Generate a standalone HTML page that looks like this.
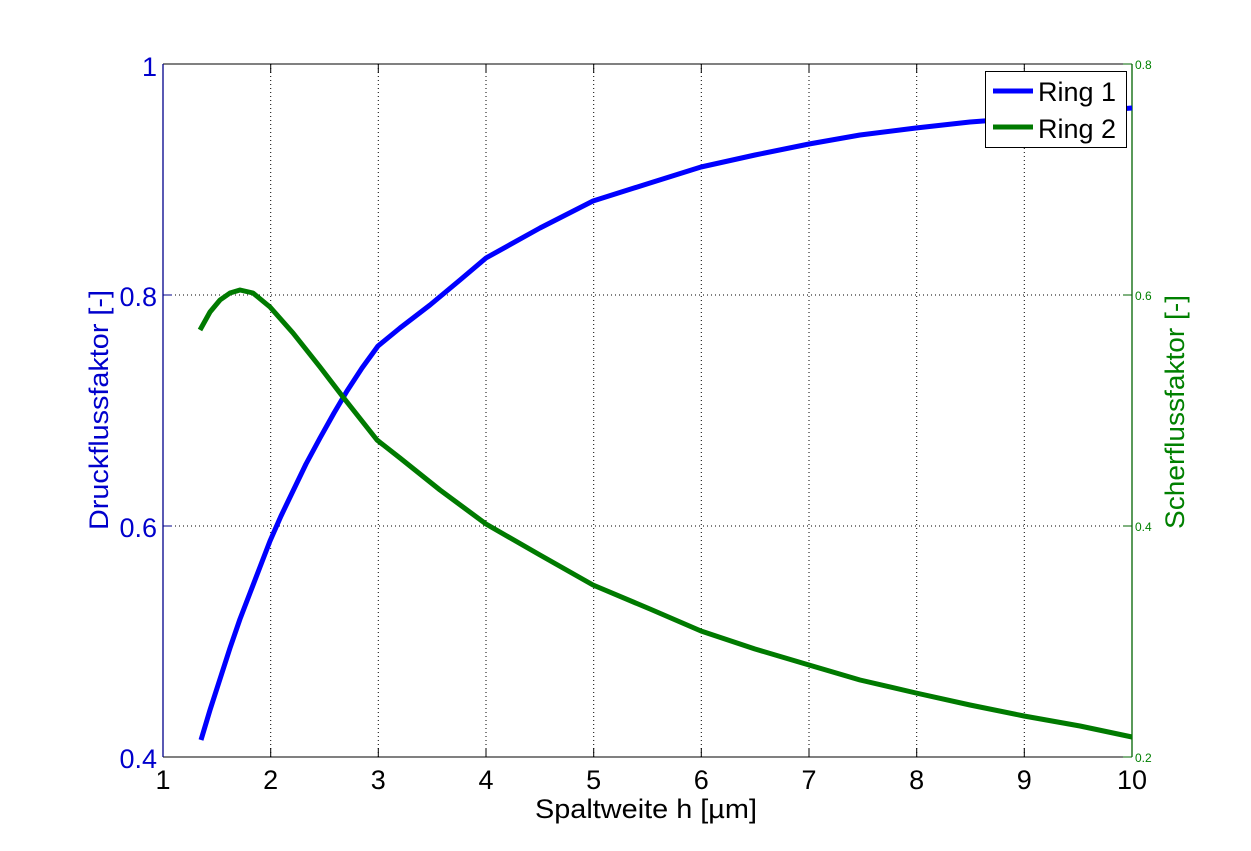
<!DOCTYPE html>
<html><head><meta charset="utf-8"><style>
html,body{margin:0;padding:0;background:#fff;}
svg{display:block;font-family:"Liberation Sans",Arial,sans-serif;}
</style></head><body>
<svg width="1251" height="851" viewBox="0 0 1251 851" xmlns="http://www.w3.org/2000/svg">
<rect width="1251" height="851" fill="#fff"/>
<g stroke="#000" stroke-width="1" stroke-dasharray="1,3">
<line x1="270.7" y1="64" x2="270.7" y2="757"/>
<line x1="378.3" y1="64" x2="378.3" y2="757"/>
<line x1="486" y1="64" x2="486" y2="757"/>
<line x1="593.7" y1="64" x2="593.7" y2="757"/>
<line x1="701.3" y1="64" x2="701.3" y2="757"/>
<line x1="809" y1="64" x2="809" y2="757"/>
<line x1="916.7" y1="64" x2="916.7" y2="757"/>
<line x1="1024.3" y1="64" x2="1024.3" y2="757"/>
<line x1="163" y1="295" x2="1132" y2="295"/>
<line x1="163" y1="526" x2="1132" y2="526"/>
</g>
<line x1="163" y1="64" x2="1132" y2="64" stroke="#000"/>
<line x1="163" y1="757" x2="1132" y2="757" stroke="#000"/>
<line x1="163" y1="64" x2="163" y2="757" stroke="#00008b" stroke-width="1.3"/>
<line x1="1132" y1="64" x2="1132" y2="757" stroke="#006400" stroke-width="1.3"/>
<g stroke="#000">
<line x1="270.7" y1="757" x2="270.7" y2="748"/><line x1="378.3" y1="757" x2="378.3" y2="748"/><line x1="486" y1="757" x2="486" y2="748"/><line x1="593.7" y1="757" x2="593.7" y2="748"/><line x1="701.3" y1="757" x2="701.3" y2="748"/><line x1="809" y1="757" x2="809" y2="748"/><line x1="916.7" y1="757" x2="916.7" y2="748"/><line x1="1024.3" y1="757" x2="1024.3" y2="748"/>
<line x1="270.7" y1="64" x2="270.7" y2="73"/><line x1="378.3" y1="64" x2="378.3" y2="73"/><line x1="486" y1="64" x2="486" y2="73"/><line x1="593.7" y1="64" x2="593.7" y2="73"/><line x1="701.3" y1="64" x2="701.3" y2="73"/><line x1="809" y1="64" x2="809" y2="73"/><line x1="916.7" y1="64" x2="916.7" y2="73"/><line x1="1024.3" y1="64" x2="1024.3" y2="73"/>
</g>
<g stroke="#00008b"><line x1="163" y1="295" x2="172" y2="295"/><line x1="163" y1="526" x2="172" y2="526"/></g>
<g stroke="#006400"><line x1="1132" y1="64" x2="1123" y2="64"/><line x1="1132" y1="295" x2="1123" y2="295"/><line x1="1132" y1="526" x2="1123" y2="526"/><line x1="1132" y1="757" x2="1123" y2="757"/></g>
<g font-size="27" fill="#000" text-anchor="middle">
<text x="163" y="789">1</text><text x="270.7" y="789">2</text><text x="378.3" y="789">3</text><text x="486" y="789">4</text><text x="593.7" y="789">5</text><text x="701.3" y="789">6</text><text x="809" y="789">7</text><text x="916.7" y="789">8</text><text x="1024.3" y="789">9</text><text x="1132" y="789">10</text>
</g>
<text x="646" y="818" font-size="27" text-anchor="middle" fill="#000" textLength="222" lengthAdjust="spacingAndGlyphs">Spaltweite h [µm]</text>
<g font-size="27" fill="#0000cc" text-anchor="end">
<text x="157" y="76">1</text><text x="157" y="306">0.8</text><text x="157" y="537">0.6</text><text x="157" y="768">0.4</text>
</g>
<text transform="translate(108,410) rotate(-90)" font-size="27" fill="#0000cc" text-anchor="middle" textLength="240" lengthAdjust="spacingAndGlyphs">Druckflussfaktor [-]</text>
<g font-size="12" fill="#008000">
<text x="1135" y="69">0.8</text><text x="1135" y="300">0.6</text><text x="1135" y="531">0.4</text><text x="1135" y="762">0.2</text>
</g>
<text transform="translate(1184,412) rotate(-90)" font-size="27" fill="#008000" text-anchor="middle" textLength="234" lengthAdjust="spacingAndGlyphs">Scherflussfaktor [-]</text>
<path d="M201,740 L210,710 L220,679 L230,648 L240,619 L250,593 L260,567 L270,541 L281,516 L293,491 L306,464 L320,438 L334,413 L347,391 L362,368 L378,346 L400,328 L430,305 L460,280 L486,258 L540,228 L593,201 L650,183 L701,167 L755,155 L809,144 L860,135 L916,128 L970,122 L1024,118 L1080,112 L1132,108" fill="none" stroke="#0000ff" stroke-width="5" stroke-linejoin="round"/>
<path d="M200,330 L210,312 L220,300 L230,293 L240,290 L253,293 L270,307 L293,333 L320,367 L343,397 L377,440 L400,458 L440,490 L486,524 L540,555 L593,585 L650,609 L701,631 L755,649 L809,665 L860,680 L916,693 L970,705 L1024,716 L1080,726 L1132,737" fill="none" stroke="#007a00" stroke-width="5" stroke-linejoin="round"/>
<rect x="985.5" y="71.5" width="141" height="76" fill="#fff" stroke="#000" stroke-width="1"/>
<line x1="993" y1="91" x2="1033" y2="91" stroke="#0000ff" stroke-width="5"/>
<line x1="993" y1="127" x2="1033" y2="127" stroke="#007a00" stroke-width="5"/>
<text x="1038" y="101" font-size="27" fill="#000">Ring 1</text>
<text x="1038" y="138" font-size="27" fill="#000">Ring 2</text>
</svg>
</body></html>
